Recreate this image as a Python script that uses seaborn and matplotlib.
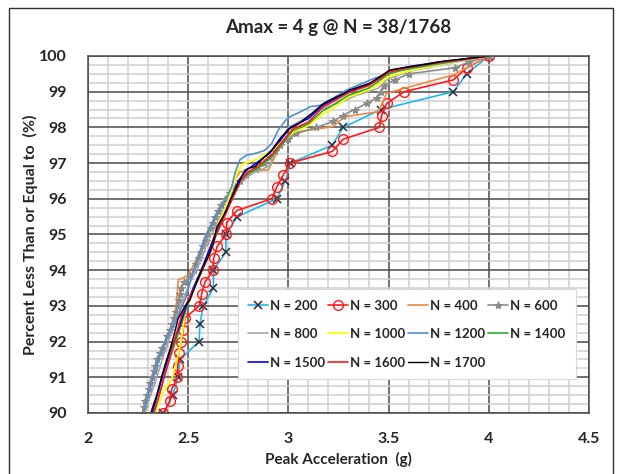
import matplotlib
matplotlib.use("Agg")
import matplotlib.pyplot as plt
from matplotlib.ticker import MultipleLocator
from matplotlib.patches import Rectangle
import seaborn as sns

sns.set_style("white")
plt.rcParams["font.family"] = ["Lato", "DejaVu Sans"]
plt.rcParams["font.weight"] = "bold"

# Empirical exceedance curves (upper 10 %) of peak acceleration for each sample size N
n200_x = [2.376, 2.423, 2.449, 2.459, 2.554, 2.559, 2.575, 2.626, 2.626, 2.687, 2.689,
          2.745, 2.941, 2.985, 3.010, 3.218, 3.274, 3.460, 3.823, 3.890, 4.0]
n200_y = [90.0, 90.5, 91.0, 91.5, 92.0, 92.5, 93.0, 93.5, 94.0, 94.5, 95.0,
          95.5, 96.0, 96.5, 97.0, 97.5, 98.0, 98.5, 99.0, 99.5, 100.0]

n300_x = [2.376, 2.409, 2.418, 2.446, 2.448, 2.452, 2.465, 2.475, 2.485, 2.556, 2.567,
          2.584, 2.625, 2.627, 2.645, 2.689, 2.692, 2.742, 2.917, 2.942, 2.975, 3.008,
          3.220, 3.274, 3.454, 3.465, 3.490, 3.578, 3.823, 3.890, 4.0]
n300_y = [90.0, 90.33, 90.67, 91.0, 91.33, 91.67, 92.0, 92.33, 92.67, 93.0, 93.33,
          93.67, 94.0, 94.33, 94.67, 95.0, 95.33, 95.67, 96.0, 96.33, 96.67, 97.0,
          97.33, 97.67, 98.0, 98.33, 98.67, 99.0, 99.33, 99.67, 100.0]

n400_x = [2.28, 2.30, 2.32, 2.35, 2.39, 2.42, 2.44, 2.451, 2.50, 2.54, 2.584, 2.642, 2.684,
          2.733, 2.758, 2.90, 2.917, 2.95, 2.99, 3.05, 3.22, 3.283, 3.449, 3.49, 3.823, 4.0]
n400_y = [90.0, 90.5, 91.0, 91.5, 92.0, 92.5, 93.0, 93.73, 93.85, 94.3, 94.85, 95.5, 95.92,
          96.53, 96.76, 96.81, 97.0, 97.37, 97.7, 97.88, 98.02, 98.3, 98.44, 98.96, 99.47, 100.0]

n600_x = [2.273, 2.280, 2.285, 2.295, 2.302, 2.310, 2.318, 2.328, 2.336, 2.345, 2.360,
          2.370, 2.385, 2.395, 2.410, 2.420, 2.430, 2.440, 2.450, 2.455, 2.460, 2.465,
          2.480, 2.510, 2.530, 2.540, 2.555, 2.565, 2.575, 2.590, 2.600, 2.615, 2.625,
          2.635, 2.650, 2.665, 2.685, 2.710, 2.735, 2.760, 2.790, 2.840, 2.880, 2.910,
          2.935, 2.960, 3.000, 3.040, 3.140, 3.224, 3.270, 3.330, 3.390, 3.440, 3.460,
          3.475, 3.530, 3.600, 3.830, 3.900, 4.0]
n600_y = [90.0, 90.17, 90.33, 90.5, 90.67, 90.83, 91.0, 91.17, 91.33, 91.5, 91.67,
          91.83, 92.0, 92.17, 92.33, 92.5, 92.67, 92.83, 93.0, 93.17, 93.33, 93.5,
          93.67, 93.83, 94.0, 94.17, 94.33, 94.5, 94.67, 94.83, 95.0, 95.17, 95.33,
          95.5, 95.67, 95.83, 96.0, 96.17, 96.33, 96.5, 96.67, 96.83, 97.0, 97.17,
          97.33, 97.5, 97.67, 97.83, 98.0, 98.17, 98.33, 98.5, 98.67, 98.83, 99.0,
          99.17, 99.33, 99.5, 99.67, 99.83, 100.0]

n800_x = [2.283, 2.30, 2.313, 2.335, 2.352, 2.37, 2.39, 2.41, 2.43, 2.45, 2.47, 2.49, 2.51,
          2.53, 2.55, 2.57, 2.59, 2.615, 2.64, 2.665, 2.69, 2.71, 2.73, 2.75, 2.77, 2.80,
          2.83, 2.87, 2.907, 2.93, 2.96, 3.0, 3.05, 3.108, 3.16, 3.224, 3.28, 3.34, 3.40,
          3.449, 3.49, 3.59, 3.70, 3.806, 4.0]
n800_y = [90.0, 90.3, 90.51, 90.85, 91.16, 91.5, 91.81, 92.15, 92.47, 92.8, 93.12, 93.4,
          93.67, 93.9, 94.14, 94.4, 94.7, 95.0, 95.26, 95.55, 95.81, 96.0, 96.19, 96.35,
          96.51, 96.63, 96.74, 96.83, 96.93, 97.3, 97.6, 98.0, 98.15, 98.35, 98.5, 98.63,
          98.75, 98.9, 99.0, 99.1, 99.33, 99.56, 99.68, 99.8, 100.0]

n1000_x = [2.334, 2.355, 2.375, 2.40, 2.417, 2.44, 2.459, 2.475, 2.49, 2.52, 2.56, 2.59,
           2.62, 2.65, 2.69, 2.72, 2.745, 2.77, 2.84, 2.92, 2.97, 3.02, 3.1, 3.174, 3.2,
           3.3, 3.4, 3.46, 3.5, 3.6, 3.75, 3.87, 4.0]
n1000_y = [90.0, 90.3, 90.6, 90.8, 90.92, 91.4, 91.86, 92.4, 93.0, 93.4, 93.9, 94.35,
           94.8, 95.3, 95.8, 96.3, 96.75, 96.97, 97.1, 97.35, 97.6, 97.85, 98.05, 98.39,
           98.45, 98.85, 99.05, 99.24, 99.42, 99.58, 99.75, 99.88, 100.0]

n1200_x = [2.275, 2.29, 2.30, 2.33, 2.36, 2.39, 2.44, 2.47, 2.49, 2.517, 2.55, 2.584,
           2.634, 2.684, 2.717, 2.733, 2.758, 2.79, 2.833, 2.88, 2.917, 2.95, 2.986, 3.008,
           3.065, 3.108, 3.174, 3.24, 3.30, 3.44, 3.54, 3.74, 4.0]
n1200_y = [90.0, 90.25, 90.5, 91.07, 91.6, 92.05, 92.6, 93.0, 93.26, 93.82, 94.38, 94.94,
           95.5, 95.92, 96.34, 96.71, 97.09, 97.22, 97.27, 97.35, 97.55, 97.93, 98.2, 98.3,
           98.45, 98.58, 98.63, 98.88, 99.07, 99.4, 99.58, 99.77, 100.0]

n1400_x = [2.33, 2.345, 2.36, 2.39, 2.425, 2.46, 2.495, 2.53, 2.57, 2.605, 2.64, 2.68,
           2.72, 2.76, 2.80, 2.86, 2.92, 2.97, 3.02, 3.1, 3.174, 3.2, 3.3, 3.4, 3.46, 3.5,
           3.6, 3.75, 3.87, 4.0]
n1400_y = [90.0, 90.3, 90.6, 91.2, 91.8, 92.4, 93.0, 93.5, 94.0, 94.5, 95.0, 95.5,
           96.0, 96.5, 96.7, 96.9, 97.2, 97.55, 97.9, 98.1, 98.48, 98.55, 98.9, 99.1, 99.33,
           99.5, 99.65, 99.8, 99.9, 100.0]

n1500_x = [2.32, 2.335, 2.35, 2.38, 2.415, 2.455, 2.49, 2.525, 2.565, 2.6, 2.635, 2.675,
           2.715, 2.75, 2.79, 2.84, 2.91, 2.96, 3.01, 3.1, 3.174, 3.2, 3.3, 3.4, 3.46, 3.5,
           3.6, 3.75, 3.87, 4.0]
n1500_y = [90.0, 90.3, 90.6, 91.2, 91.8, 92.4, 93.0, 93.5, 94.0, 94.5, 95.0, 95.5,
           96.0, 96.5, 96.8, 97.0, 97.3, 97.65, 98.0, 98.25, 98.63, 98.7, 99.0, 99.2, 99.4,
           99.58, 99.7, 99.83, 99.91, 100.0]

n1600_x = [2.325, 2.345, 2.36, 2.39, 2.42, 2.45, 2.47, 2.49, 2.53, 2.57, 2.61, 2.64,
           2.68, 2.72, 2.76, 2.80, 2.85, 2.92, 2.97, 3.02, 3.1, 3.174, 3.2, 3.3, 3.4, 3.46,
           3.5, 3.6, 3.75, 3.87, 4.0]
n1600_y = [90.0, 90.3, 90.6, 91.2, 91.8, 92.4, 92.8, 93.05, 93.5, 94.0, 94.5, 95.0,
           95.5, 96.0, 96.5, 96.75, 96.92, 97.25, 97.6, 97.95, 98.15, 98.58, 98.65, 98.97,
           99.17, 99.38, 99.55, 99.68, 99.82, 99.9, 100.0]

n1700_x = [2.313, 2.328, 2.343, 2.37, 2.39, 2.41, 2.43, 2.45, 2.48, 2.509, 2.534, 2.567,
           2.6, 2.625, 2.642, 2.684, 2.71, 2.75, 2.783, 2.80, 2.833, 2.883, 2.917, 2.96,
           3.0, 3.05, 3.108, 3.174, 3.208, 3.26, 3.307, 3.36, 3.407, 3.457, 3.507, 3.607,
           3.70, 3.756, 3.873, 4.0]
n1700_y = [90.0, 90.25, 90.5, 91.07, 91.45, 91.8, 92.2, 92.65, 92.95, 93.17, 93.54, 94.0,
           94.38, 94.75, 95.2, 95.6, 95.97, 96.43, 96.8, 96.85, 96.9, 97.18, 97.37, 97.7,
           97.95, 98.1, 98.35, 98.67, 98.77, 98.9, 99.05, 99.15, 99.24, 99.42, 99.61, 99.70,
           99.78, 99.84, 99.92, 100.0]

series_labels = ["N = 200", "N = 300", "N = 400", "N = 600", "N = 800", "N = 1000",
                 "N = 1200", "N = 1400", "N = 1500", "N = 1600", "N = 1700"]
series_x = [n200_x, n300_x, n400_x, n600_x, n800_x, n1000_x, n1200_x, n1400_x,
            n1500_x, n1600_x, n1700_x]
series_y = [n200_y, n300_y, n400_y, n600_y, n800_y, n1000_y, n1200_y, n1400_y,
            n1500_y, n1600_y, n1700_y]

styles = [
    dict(color="#1CB8EE", marker="x", markersize=6, markeredgewidth=1.1,
         markeredgecolor="#2a2a3a", linewidth=1.2),
    dict(color="#FF1A1A", marker="o", markersize=7, markerfacecolor="none",
         markeredgecolor="#FF1A1A", markeredgewidth=1.0, linewidth=1.2),
    dict(color="#F0883E", linewidth=1.2),
    dict(color="#8C8C8C", marker="*", markersize=6, markeredgecolor="#8C8C8C",
         linewidth=1.2),
    dict(color="#A6A6A6", linewidth=1.2),
    dict(color="#FFFF00", linewidth=1.3),
    dict(color="#4F8FD0", linewidth=1.2),
    dict(color="#2EAA2E", linewidth=1.2),
    dict(color="#0000FF", linewidth=1.2),
    dict(color="#FF1A1A", linewidth=1.2),
    dict(color="#000000", linewidth=1.0),
]

fig = plt.figure(figsize=(6.22, 4.74), dpi=100)
ax = fig.add_axes([88 / 622, 1 - 413 / 474, (589 - 88) / 622, (413 - 56) / 474])

for xs, ys, lab, st in zip(series_x, series_y, series_labels, styles):
    sns.lineplot(x=xs, y=ys, ax=ax, sort=False, estimator=None, label=lab, **st)

ax.set_xlim(2, 4.5)
ax.set_ylim(90, 100)
ax.xaxis.set_major_locator(MultipleLocator(0.5))
ax.xaxis.set_minor_locator(MultipleLocator(0.1))
ax.yaxis.set_major_locator(MultipleLocator(1))
ax.yaxis.set_minor_locator(MultipleLocator(0.25))
ax.set_xticks([2, 2.5, 3, 3.5, 4, 4.5])
ax.set_xticklabels(["2", "2.5", "3", "3.5", "4", "4.5"])
ax.set_axisbelow(True)
ax.grid(which="minor", color="#CFCFCF", linewidth=1.1)
ax.grid(which="major", color="#4A4A4A", linewidth=1.1)
ax.tick_params(which="both", length=0)
ax.tick_params(axis="x", pad=14, labelsize=11.5)
ax.tick_params(axis="y", pad=15, labelsize=11.5)
for lbl in ax.get_xticklabels() + ax.get_yticklabels():
    lbl.set_fontweight("bold")
for sp in ax.spines.values():
    sp.set_color("#4A4A4A")
    sp.set_linewidth(1.1)

ax.set_xlabel("Peak Acceleration  (g)", fontsize=11, fontweight="bold", labelpad=4)
ax.set_ylabel("Percent Less Than or Equal to  (%)", fontsize=11.5, fontweight="bold",
              labelpad=1)
fig.text(338 / 622, 1 - 27 / 474, "Amax = 4 g @ N = 38/1768", ha="center", va="center",
         fontsize=13.5, fontweight="bold")

handles, labels = ax.get_legend_handles_labels()
order = [0, 4, 8, 1, 5, 9, 2, 6, 10, 3, 7]
leg = ax.legend([handles[i] for i in order], [labels[i] for i in order], ncol=4,
                loc="lower left", bbox_to_anchor=(0.299, 0.095, 0.675, 0.283),
                mode="expand", fancybox=False, framealpha=1, edgecolor="#D9D9D9",
                prop={"weight": "bold", "size": 9.5}, handlelength=1.5,
                handletextpad=0.15, columnspacing=0.3, labelspacing=1.25,
                borderaxespad=0, borderpad=0.8)
leg.get_frame().set_linewidth(0.8)

fig.patches.append(Rectangle((9 / 622, -0.02), (613 - 9) / 622, 1.02 - 8 / 474,
                             transform=fig.transFigure, fill=False,
                             edgecolor="#303030", linewidth=1.0))

fig.savefig("out.png", dpi=100)
